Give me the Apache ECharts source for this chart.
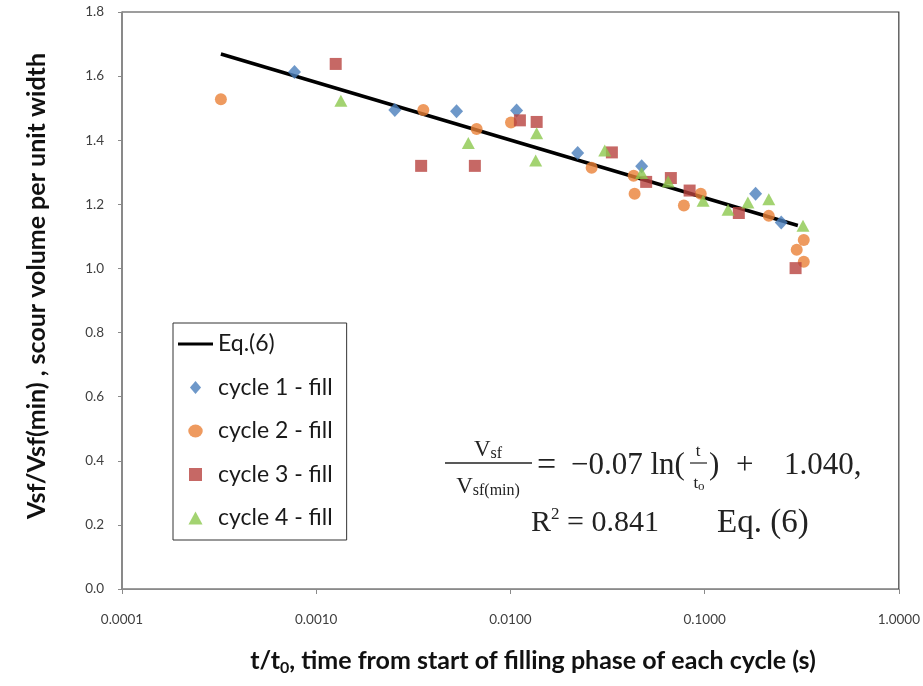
<!DOCTYPE html>
<html>
<head>
<meta charset="utf-8">
<script src="https://cdn.jsdelivr.net/npm/echarts@6/dist/echarts.min.js"></script>
<style>
  html, body { margin: 0; padding: 0; background: #ffffff; }
  #chart { width: 923px; height: 686px; }
</style>
</head>
<body>
<div id="chart"></div>
<script>
// Axis ticks
const xTicks = [0.0001, 0.001, 0.01, 0.1, 1];
const yTicks = [0, 0.2, 0.4, 0.6, 0.8, 1.0, 1.2, 1.4, 1.6, 1.8];

// Fitted logarithmic trend, Eq.(6): end points [t/t0, Vsf/Vsf(min)]
const fitLine = [[0.000323, 1.669], [0.302, 1.134]];

// Measured points [t/t0, Vsf/Vsf(min)]
const cycle1 = [[0.000773, 1.613], [0.00254, 1.494], [0.00528, 1.490], [0.01076, 1.493],
                [0.0222, 1.360], [0.0474, 1.319], [0.183, 1.233], [0.248, 1.143]];
const cycle2 = [[0.000323, 1.528], [0.00356, 1.494], [0.00670, 1.435], [0.01007, 1.455],
                [0.0262, 1.314], [0.0431, 1.289], [0.0436, 1.233], [0.0782, 1.196],
                [0.0955, 1.233], [0.214, 1.164], [0.324, 1.089], [0.298, 1.058], [0.324, 1.021]];
const cycle3 = [[0.00126, 1.638], [0.00347, 1.320], [0.00656, 1.320], [0.01119, 1.462],
                [0.01365, 1.457], [0.0333, 1.362], [0.0500, 1.270], [0.0670, 1.282],
                [0.0837, 1.243], [0.150, 1.173], [0.294, 1.001]];
const cycle4 = [[0.00134, 1.523], [0.00607, 1.391], [0.01365, 1.422], [0.01349, 1.337],
                [0.0306, 1.368], [0.0474, 1.298], [0.0649, 1.271], [0.0982, 1.211],
                [0.132, 1.183], [0.167, 1.206], [0.214, 1.216], [0.321, 1.133]];

const seriesNames = ['Eq.(6)', 'cycle 1 - fill', 'cycle 2 - fill', 'cycle 3 - fill', 'cycle 4 - fill'];

// Legend icons as paths so they keep their proportions inside the wide icon box
const legendIcons = [
  'path://M0,0L35,0L35,3L0,3Z',
  'path://M6,0L12,7L6,14L0,7Z',
  'path://M6,0A6,5.4 0 1,1 5.99,0Z',
  'path://M0,0L12,0L12,12L0,12Z',
  'path://M6.5,0L13,12L0,12Z'
];

const sans = 'Lato, "Open Sans", sans-serif';
const serif = '"Liberation Serif", "DejaVu Serif", serif';
const ink = '#222222';

const chart = echarts.init(document.getElementById('chart'), null, { renderer: 'canvas' });

chart.setOption({
  animation: false,
  backgroundColor: '#ffffff',
  grid: {
    left: 122, right: 24, top: 12, bottom: 97,
    show: true, borderColor: '#3c3c3c', borderWidth: 1.2, backgroundColor: 'transparent'
  },
  xAxis: {
    type: 'log',
    logBase: 10,
    min: xTicks[0],
    max: xTicks[xTicks.length - 1],
    splitNumber: 4,
    axisLine: { show: true, lineStyle: { color: '#8a8a8a', width: 1 } },
    axisTick: { show: true, inside: false, length: 5, lineStyle: { color: '#8a8a8a' } },
    splitLine: { show: false },
    minorTick: { show: false },
    axisLabel: {
      margin: 24, fontSize: 13.5, fontFamily: sans, color: '#404040',
      formatter: v => Number(v).toFixed(4)
    }
  },
  yAxis: {
    type: 'value',
    min: yTicks[0],
    max: yTicks[yTicks.length - 1],
    interval: 0.2,
    axisLine: { show: true, lineStyle: { color: '#8a8a8a', width: 1 } },
    axisTick: { show: true, inside: false, length: 4, lineStyle: { color: '#8a8a8a' } },
    splitLine: { show: false },
    axisLabel: {
      margin: 18, fontSize: 13.5, fontFamily: sans, color: '#404040',
      formatter: v => Number(v).toFixed(1)
    }
  },
  legend: {
    orient: 'vertical',
    left: 173, top: 323,
    padding: [9, 14, 10, 5],
    itemGap: 19.5,
    itemWidth: 35,
    itemHeight: 13,
    symbolKeepAspect: true,
    borderColor: '#333333',
    borderWidth: 1,
    backgroundColor: '#ffffff',
    data: seriesNames.map((name, i) => ({ name: name, icon: legendIcons[i] })),
    textStyle: { fontSize: 23, lineHeight: 24, fontFamily: sans, color: '#1a1a1a' }
  },
  series: [
    {
      name: seriesNames[0], type: 'line', data: fitLine,
      symbol: 'none', z: 1,
      lineStyle: { color: '#000000', width: 3.5 },
      itemStyle: { color: '#000000' }
    },
    {
      name: seriesNames[1], type: 'scatter', data: cycle1, z: 3,
      symbol: 'diamond', symbolSize: [13, 14],
      itemStyle: { color: '#4A7EBB' }
    },
    {
      name: seriesNames[2], type: 'scatter', data: cycle2, z: 3,
      symbol: 'circle', symbolSize: 12,
      itemStyle: { color: '#EA8137' }
    },
    {
      name: seriesNames[3], type: 'scatter', data: cycle3, z: 3,
      symbol: 'rect', symbolSize: 12,
      itemStyle: { color: '#B8423F' }
    },
    {
      name: seriesNames[4], type: 'scatter', data: cycle4, z: 3,
      symbol: 'triangle', symbolSize: [13, 12],
      itemStyle: { color: '#8CC84E' }
    }
  ],
  graphic: [
    // Y axis title
    {
      type: 'text', x: 37, y: 286, rotation: Math.PI / 2,
      style: {
        text: 'Vsf/Vsf(min) , scour volume per unit width',
        fontSize: 25, fontWeight: 'bold', fontFamily: sans, fill: '#111111',
        align: 'center', verticalAlign: 'middle'
      }
    },
    // X axis title with subscript
    {
      type: 'text', x: 533, y: 661,
      style: {
        text: '{a|t/t}{s|0}{a|, time from start of filling phase of each cycle (s)}',
        align: 'center', verticalAlign: 'middle',
        rich: {
          a: { fontSize: 25, fontWeight: 'bold', fontFamily: sans, fill: '#111111', lineHeight: 30, verticalAlign: 'middle' },
          s: { fontSize: 16, fontWeight: 'bold', fontFamily: sans, fill: '#111111', lineHeight: 30, verticalAlign: 'bottom' }
        }
      }
    },
    // Equation (6): left-hand fraction
    {
      type: 'text', x: 488, y: 450,
      style: {
        text: '{v|V}{s|sf}', align: 'center', verticalAlign: 'middle',
        rich: {
          v: { fontSize: 23, fontFamily: serif, fill: ink, lineHeight: 24, verticalAlign: 'middle' },
          s: { fontSize: 16, fontFamily: serif, fill: ink, lineHeight: 24, verticalAlign: 'bottom' }
        }
      }
    },
    { type: 'line', shape: { x1: 445, y1: 463, x2: 532, y2: 463 }, style: { stroke: ink, lineWidth: 1.4 } },
    {
      type: 'text', x: 488, y: 487,
      style: {
        text: '{v|V}{s|sf(min)}', align: 'center', verticalAlign: 'middle',
        rich: {
          v: { fontSize: 23, fontFamily: serif, fill: ink, lineHeight: 24, verticalAlign: 'middle' },
          s: { fontSize: 16, fontFamily: serif, fill: ink, lineHeight: 24, verticalAlign: 'bottom' }
        }
      }
    },
    {
      type: 'text', x: 537, y: 466,
      style: { text: '=', fontSize: 34, fontFamily: serif, fill: ink, align: 'left', verticalAlign: 'middle' }
    },
    {
      type: 'text', x: 571, y: 466,
      style: { text: '\u22120.07 ln(', fontSize: 31, fontFamily: serif, fill: ink, align: 'left', verticalAlign: 'middle' }
    },
    // t / t0 fraction
    {
      type: 'text', x: 698, y: 452,
      style: { text: 't', fontSize: 17, fontFamily: serif, fill: ink, align: 'center', verticalAlign: 'middle' }
    },
    { type: 'line', shape: { x1: 690, y1: 463, x2: 707, y2: 463 }, style: { stroke: ink, lineWidth: 1.2 } },
    {
      type: 'text', x: 699, y: 484,
      style: {
        text: '{v|t}{s|o}', align: 'center', verticalAlign: 'middle',
        rich: {
          v: { fontSize: 17, fontFamily: serif, fill: ink, lineHeight: 18, verticalAlign: 'middle' },
          s: { fontSize: 13, fontFamily: serif, fill: ink, lineHeight: 18, verticalAlign: 'bottom' }
        }
      }
    },
    {
      type: 'text', x: 709, y: 466,
      style: { text: ')', fontSize: 31, fontFamily: serif, fill: ink, align: 'left', verticalAlign: 'middle' }
    },
    {
      type: 'text', x: 736, y: 466,
      style: { text: '+', fontSize: 31, fontFamily: serif, fill: ink, align: 'left', verticalAlign: 'middle' }
    },
    {
      type: 'text', x: 784, y: 466,
      style: { text: '1.040,', fontSize: 31, fontFamily: serif, fill: ink, align: 'left', verticalAlign: 'middle' }
    },
    // R^2 and equation number
    {
      type: 'text', x: 531, y: 523,
      style: {
        text: '{a|R}{p|2}{a| = 0.841}', align: 'left', verticalAlign: 'middle',
        rich: {
          a: { fontSize: 30, fontFamily: serif, fill: ink, lineHeight: 34, verticalAlign: 'middle' },
          p: { fontSize: 17, fontFamily: serif, fill: ink, lineHeight: 34, verticalAlign: 'top' }
        }
      }
    },
    {
      type: 'text', x: 717, y: 523,
      style: { text: 'Eq. (6)', fontSize: 33, fontFamily: serif, fill: ink, align: 'left', verticalAlign: 'middle' }
    }
  ]
});
</script>
</body>
</html>
